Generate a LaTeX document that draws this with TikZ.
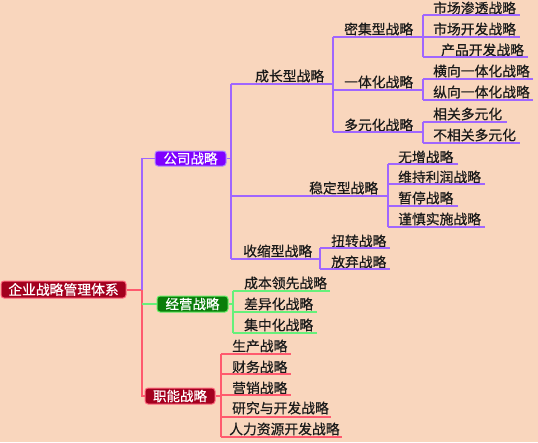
\documentclass[tikz,border=0pt]{standalone}
\usepackage{fontspec}
\newfontfamily\cjk[FakeBold=0.6]{Noto Sans CJK SC}
\definecolor{bgc}{HTML}{F9D6BD}
\definecolor{pline}{HTML}{A066FF}
\definecolor{gline}{HTML}{66F07A}
\definecolor{rline}{HTML}{FF5A6E}
\definecolor{pfill}{HTML}{7F00FF}
\definecolor{pbord}{HTML}{B088FF}
\definecolor{gfill}{HTML}{0A7D0A}
\definecolor{gbord}{HTML}{66F066}
\definecolor{rfill}{HTML}{A3001E}
\definecolor{rbord}{HTML}{FF6A80}
\definecolor{txt}{HTML}{1A1A1A}
\tikzset{
  lbl/.style={font=\cjk\fontsize{13.8}{13.8}\selectfont, inner sep=0pt, text=txt, anchor=west},
  mainbox/.style={font=\cjk\fontsize{13.5}{13.5}\selectfont, inner sep=0pt, text=white, rounded corners=3pt, line width=1pt},
  pl/.style={draw=pline, line width=1.4pt},
  gl/.style={draw=gline, line width=1.4pt},
  rl/.style={draw=rline, line width=1.4pt},
}
\newcommand\mmitem[8]{%
  \node[lbl] (#1) at (#3,#4) {#8};
  \coordinate (#1-s) at (#5,#6);
  \coordinate (#1-e) at (#7,#6);
  \draw[#2] (#1-s) -- (#1-e);}
\begin{document}
\begin{tikzpicture}[x=1pt,y=-1pt]
\fill[bgc] (0,0) rectangle (538,442);
\useasboundingbox (0,0) rectangle (538,442);

% main boxes
\node[mainbox, fill=rfill, draw=rbord, minimum width=125pt, minimum height=17pt, font=\cjk\fontsize{13.8}{13.8}\selectfont] (root) at (63.5,289.5) {企业战略管理体系};
\node[mainbox, fill=pfill, draw=pbord, minimum width=71pt, minimum height=15pt] (gs) at (190.5,158.5) {公司战略};
\node[mainbox, fill=gfill, draw=gbord, minimum width=71pt, minimum height=16pt] (jy) at (192.5,304) {经营战略};
\node[mainbox, fill=rfill, draw=rbord, minimum width=70pt, minimum height=16pt] (zn) at (180,396) {职能战略};

% trunk
\coordinate (t0) at (142,290);
\coordinate (tt) at (142,158.5);
\coordinate (tb) at (142,396);
\draw[rl] (root.east |- t0) -- (t0);
\draw[pl] (t0) -- (tt) -- (gs.west);
\draw[rl] (t0) -- (tb) -- (zn.west);
\draw[gl] (142,304) -- (jy.west);

% 公司战略
\coordinate (gf) at (231,158.5);
\draw[pl] (gs.east) -- (gf);
\mmitem{cz}{pl}{255}{76}{231}{84}{333}{成长型战略}
\mmitem{wd}{pl}{309}{188}{231}{196}{388}{稳定型战略}
\mmitem{ss}{pl}{243}{251}{231}{259}{320}{收缩型战略}
\draw[pl] (cz-s) -- (ss-s);

% 成长型
\mmitem{mj}{pl}{344}{29}{333}{37}{423}{密集型战略}
\mmitem{yt}{pl}{344}{82}{333}{90}{423}{一体化战略}
\mmitem{dy}{pl}{344}{125}{333}{132}{423}{多元化战略}
\draw[pl] (mj-s) -- (dy-s);

\mmitem{a1}{pl}{433}{8}{423}{15}{520}{市场渗透战略}
\mmitem{a2}{pl}{433}{29}{423}{37}{520}{市场开发战略}
\mmitem{a3}{pl}{441}{50}{423}{57}{528}{产品开发战略}
\draw[pl] (a1-s) -- (a3-s);

\mmitem{b1}{pl}{433}{71}{423}{79}{533}{横向一体化战略}
\mmitem{b2}{pl}{433}{92}{423}{100}{533}{纵向一体化战略}
\draw[pl] (b1-s) -- (b2-s);

\mmitem{c1}{pl}{433}{114}{423}{122}{507}{相关多元化}
\mmitem{c2}{pl}{433}{135}{423}{143}{520}{不相关多元化}
\draw[pl] (c1-s) -- (c2-s);

% 稳定型
\mmitem{d1}{pl}{398}{157}{388}{164}{458}{无增战略}
\mmitem{d2}{pl}{398}{177}{388}{184}{485}{维持利润战略}
\mmitem{d3}{pl}{398}{198}{388}{206}{458}{暂停战略}
\mmitem{d4}{pl}{398}{219}{388}{227}{485}{谨慎实施战略}
\draw[pl] (d1-s) -- (d4-s);

% 收缩型
\mmitem{e1}{pl}{331}{241}{320}{248}{390}{扭转战略}
\mmitem{e2}{pl}{331}{262}{320}{269}{390}{放弃战略}
\draw[pl] (e1-s) -- (e2-s);

% 经营战略
\mmitem{f1}{gl}{244}{283}{233}{291}{330}{成本领先战略}
\mmitem{f2}{gl}{244}{304}{233}{312}{317}{差异化战略}
\mmitem{f3}{gl}{244}{325}{233}{333}{317}{集中化战略}
\draw[gl] (jy.east) -- (233,304);
\draw[gl] (f1-s) -- (f3-s);

% 职能战略
\mmitem{g1}{rl}{232}{346}{221}{354}{291}{生产战略}
\mmitem{g2}{rl}{232}{367}{221}{374}{291}{财务战略}
\mmitem{g3}{rl}{232}{388}{221}{395}{291}{营销战略}
\mmitem{g4}{rl}{232}{408}{221}{417}{331}{研究与开发战略}
\mmitem{g5}{rl}{229}{429}{221}{437}{342}{人力资源开发战略}
\draw[rl] (zn.east) -- (221,396);
\draw[rl] (g1-s) -- (g5-s);
\end{tikzpicture}
\end{document}
